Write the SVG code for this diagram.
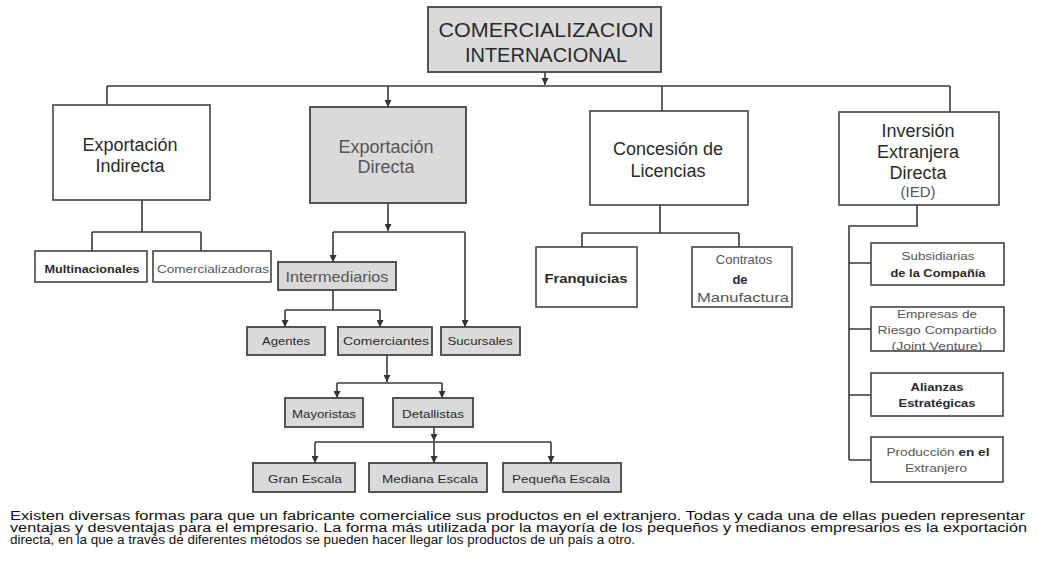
<svg xmlns="http://www.w3.org/2000/svg" width="1039" height="569" viewBox="0 0 1039 569">
<defs>
<marker id="arr" viewBox="0 0 8 8" refX="8" refY="4" markerWidth="7" markerHeight="7" markerUnits="userSpaceOnUse" orient="auto">
<path d="M0,0 L8,4 L0,8 z" fill="#333"/>
</marker>
<style>
text{font-family:"Liberation Sans",Arial,sans-serif;text-anchor:middle;fill:#2a2a2a}
.big{font-size:18px}
.sm{font-size:11px}
.b{font-weight:bold}
.lt{fill:#555}
.box{fill:#fff;stroke:#444;stroke-width:1.6}
.gbox{fill:#dadada;stroke:#444;stroke-width:1.8}
.con path{fill:none;stroke:#3a3a3a;stroke-width:1.6}
.arw{marker-end:url(#arr)}
.para{font-size:12px;text-anchor:start;fill:#111}
</style>
</defs>
<rect width="1039" height="569" fill="#fff"/>

<g id="connectors" class="con">
<path class="arw" d="M545,72 V85"/>
<path d="M107,86 H950"/>
<path d="M107,86 V105"/>
<path class="arw" d="M388,86 V107"/>
<path d="M662,86 V111"/>
<path d="M950,86 V112"/>
<path d="M142,200 V232 M92,232 H201 M92,232 V251 M201,232 V251"/>
<path class="arw" d="M388,203 V231"/>
<path d="M333,232 H465"/>
<path class="arw" d="M333,232 V262"/>
<path class="arw" d="M465,232 V327"/>
<path d="M333,290 V310 M285,310 H380"/>
<path class="arw" d="M285,310 V327"/>
<path class="arw" d="M380,310 V327"/>
<path class="arw" d="M387,355 V382"/>
<path d="M337,383 H442"/>
<path class="arw" d="M337,383 V398"/>
<path class="arw" d="M442,383 V398"/>
<path class="arw" d="M434,427 V441"/>
<path d="M315,442 H551"/>
<path class="arw" d="M315,442 V463"/>
<path class="arw" d="M434,442 V463"/>
<path class="arw" d="M551,442 V463"/>
<path d="M660,205 V233 M582,233 H739 M582,233 V247 M739,233 V247"/>
<path d="M917,205 V226 H849 V460 M849,263 H871 M849,329 H871 M849,395 H871 M849,460 H871"/>
</g>

<g id="n-root">
<rect class="gbox" x="428" y="7" width="233" height="65"/>
<text x="546" y="37" style="font-size:20px" textLength="215" lengthAdjust="spacingAndGlyphs">COMERCIALIZACION</text>
<text x="546" y="62" style="font-size:20px">INTERNACIONAL</text>
</g>

<g id="n-indirecta">
<rect class="box" x="53" y="105" width="157" height="95"/>
<text class="big" x="130" y="151">Exportación</text>
<text class="big" x="130" y="172">Indirecta</text>
</g>

<g id="n-directa">
<rect class="gbox" x="310" y="107" width="156" height="96"/>
<text class="big lt" x="386" y="153">Exportación</text>
<text class="big lt" x="386" y="173">Directa</text>
</g>

<g id="n-licencias">
<rect class="box" x="590" y="111" width="158" height="94"/>
<text class="big" x="668" y="155">Concesión de</text>
<text class="big" x="668" y="177">Licencias</text>
</g>

<g id="n-ied">
<rect class="box" x="839" y="112" width="160" height="93"/>
<text class="big" x="918" y="137">Inversión</text>
<text class="big" x="918" y="158">Extranjera</text>
<text class="big" x="918" y="179">Directa</text>
<text class="lt" x="918" y="197" style="font-size:15px">(IED)</text>
</g>

<g id="n-multinacionales">
<rect class="box" x="35" y="251" width="112" height="31"/>
<text class="sm b" x="92" y="273" textLength="95" lengthAdjust="spacingAndGlyphs">Multinacionales</text>
</g>
<g id="n-comercializadoras">
<rect class="box" x="153" y="251" width="118" height="31"/>
<text class="sm lt" x="213" y="273" textLength="112" lengthAdjust="spacingAndGlyphs">Comercializadoras</text>
</g>

<g id="n-intermediarios">
<rect class="gbox" x="278" y="262" width="118" height="28"/>
<text class="lt" x="337" y="282" style="font-size:15px" textLength="103" lengthAdjust="spacingAndGlyphs">Intermediarios</text>
</g>
<g id="n-agentes">
<rect class="gbox" x="247" y="327" width="78" height="28"/>
<text class="sm" x="286" y="345" textLength="48" lengthAdjust="spacingAndGlyphs">Agentes</text>
</g>
<g id="n-comerciantes">
<rect class="gbox" x="338" y="327" width="94" height="28"/>
<text class="sm" x="386" y="345" textLength="86" lengthAdjust="spacingAndGlyphs">Comerciantes</text>
</g>
<g id="n-sucursales">
<rect class="gbox" x="441" y="327" width="79" height="28"/>
<text class="sm" x="480" y="345" textLength="65" lengthAdjust="spacingAndGlyphs">Sucursales</text>
</g>
<g id="n-mayoristas">
<rect class="gbox" x="285" y="398" width="78" height="29"/>
<text class="sm" x="324" y="418" textLength="64" lengthAdjust="spacingAndGlyphs">Mayoristas</text>
</g>
<g id="n-detallistas">
<rect class="gbox" x="393" y="398" width="80" height="29"/>
<text class="sm" x="433" y="418" textLength="62" lengthAdjust="spacingAndGlyphs">Detallistas</text>
</g>
<g id="n-gran">
<rect class="gbox" x="253" y="463" width="102" height="29"/>
<text class="sm" x="305" y="483" textLength="74" lengthAdjust="spacingAndGlyphs">Gran Escala</text>
</g>
<g id="n-mediana">
<rect class="gbox" x="369" y="463" width="118" height="29"/>
<text class="sm" x="430" y="483" textLength="96" lengthAdjust="spacingAndGlyphs">Mediana Escala</text>
</g>
<g id="n-pequena">
<rect class="gbox" x="503" y="463" width="118" height="29"/>
<text class="sm" x="561" y="483" textLength="98" lengthAdjust="spacingAndGlyphs">Pequeña Escala</text>
</g>

<g id="n-franquicias">
<rect class="box" x="536" y="247" width="101" height="60"/>
<text class="b" x="586" y="283" style="font-size:13px" textLength="83" lengthAdjust="spacingAndGlyphs">Franquicias</text>
</g>
<g id="n-contratos">
<rect class="box" x="692" y="247" width="100" height="60"/>
<text class="lt" x="744" y="264" style="font-size:13px">Contratos</text>
<text class="b" x="740" y="284" style="font-size:13px">de</text>
<text class="lt" x="743" y="302" style="font-size:13px" textLength="92" lengthAdjust="spacingAndGlyphs">Manufactura</text>
</g>

<g id="n-subsidiarias">
<rect class="box" x="871" y="243" width="133" height="42"/>
<text class="sm lt" x="938" y="260" style="font-size:10px" textLength="73" lengthAdjust="spacingAndGlyphs">Subsidiarias</text>
<text class="sm b" x="938" y="277" textLength="95" lengthAdjust="spacingAndGlyphs">de la Compañía</text>
</g>
<g id="n-empresas">
<rect class="box" x="871" y="307" width="133" height="44"/>
<text class="sm lt" x="937" y="318" style="font-size:10px" textLength="80" lengthAdjust="spacingAndGlyphs">Empresas de</text>
<text class="sm lt" x="937" y="334" style="font-size:10px" textLength="119" lengthAdjust="spacingAndGlyphs">Riesgo Compartido</text>
<text class="sm lt" x="937" y="350" style="font-size:10px" textLength="91" lengthAdjust="spacingAndGlyphs">(Joint Venture)</text>
</g>
<g id="n-alianzas">
<rect class="box" x="871" y="373" width="132" height="43"/>
<text class="sm b" x="937" y="391" textLength="53" lengthAdjust="spacingAndGlyphs">Alianzas</text>
<text class="sm b" x="937" y="407" textLength="77" lengthAdjust="spacingAndGlyphs">Estratégicas</text>
</g>
<g id="n-produccion">
<rect class="box" x="871" y="437" width="132" height="45"/>
<text class="sm" x="938" y="456" style="font-size:10px" textLength="103" lengthAdjust="spacingAndGlyphs"><tspan class="lt">Producción </tspan><tspan font-weight="bold">en el</tspan></text>
<text class="sm lt" x="936" y="472" style="font-size:10px" textLength="62" lengthAdjust="spacingAndGlyphs">Extranjero</text>
</g>

<g id="caption">
<text class="para" x="10" y="520" textLength="1015" lengthAdjust="spacingAndGlyphs">Existen diversas formas para que un fabricante comercialice sus productos en el extranjero. Todas y cada una de ellas pueden representar</text>
<text class="para" x="10" y="532" textLength="1017" lengthAdjust="spacingAndGlyphs">ventajas y desventajas para el empresario. La forma más utilizada por la mayoría de los pequeños y medianos empresarios es la exportación</text>
<text class="para" x="10" y="544" textLength="625" lengthAdjust="spacingAndGlyphs">directa, en la que a través de diferentes métodos se pueden hacer llegar los productos de un país a otro.</text>
</g>
</svg>
